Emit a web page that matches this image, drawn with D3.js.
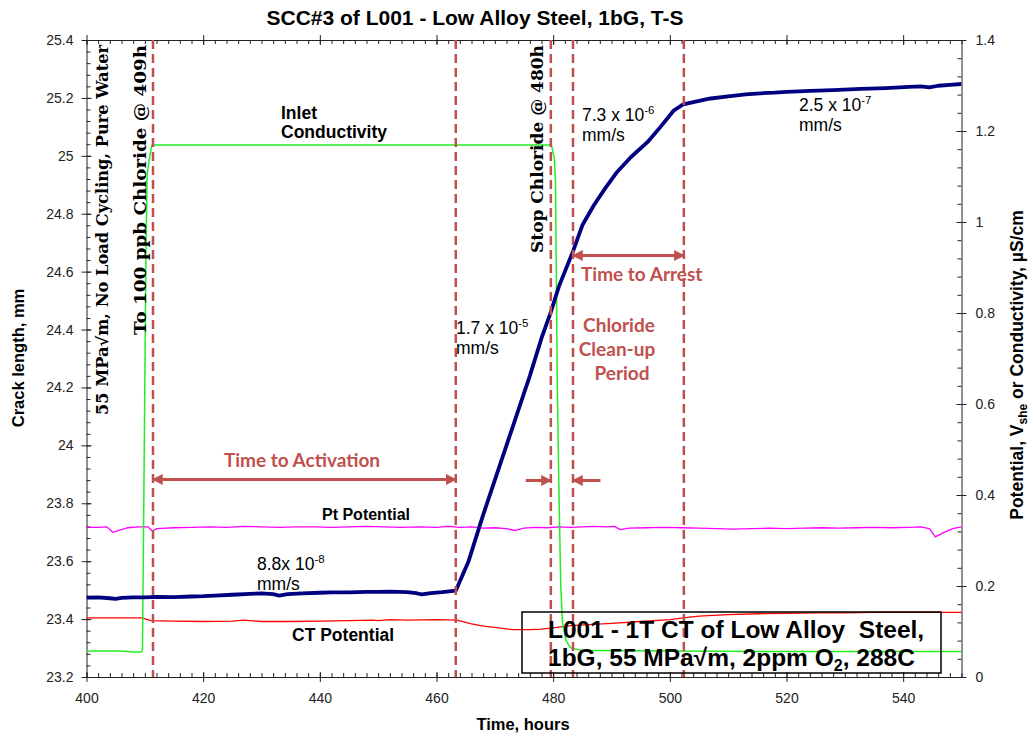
<!DOCTYPE html>
<html>
<head>
<meta charset="utf-8">
<script src="https://d3js.org/d3.v7.min.js"></script>
<style>
  body { margin: 0; background: #fff; }
  text { font-family: Arial, "Liberation Sans", sans-serif; }
  .axis text { font-size: 14px; fill: #222; }
  .axis path, .axis line { stroke: #222; }
  .ann { fill: #c0504d; font-family: Lato, "Open Sans", sans-serif; font-weight: bold; font-size: 19px; }
  .serif { font-family: "DejaVu Serif", "Liberation Serif", serif; font-weight: bold; font-size: 16px; }
</style>
</head>
<body>
<svg id="chart" width="1029" height="738"></svg>
<script>
// crack length (mm, left axis)
var crackTime = [400, 402, 404, 405, 406, 408, 410, 412, 415, 418, 420, 422, 425, 428, 430, 432, 433, 434.5, 437, 440, 442, 445, 448, 450, 452, 455, 456.5, 457.5, 459, 461, 463.3,
                 465.5, 468, 470, 472, 474, 476, 478, 479.6, 481, 483.4, 485, 487, 489, 491, 493.3, 496.2, 498.4, 500.6, 502.3,
                 505, 507, 510, 513, 515.5, 518, 520, 524, 528, 532.7, 537, 541, 543, 544.5, 546, 548, 550];
var crackLen = [23.474, 23.475, 23.472, 23.470, 23.473, 23.475, 23.475, 23.477, 23.476, 23.478, 23.479, 23.481, 23.484, 23.487, 23.489, 23.486, 23.481, 23.486, 23.489, 23.491, 23.492, 23.492, 23.494, 23.494, 23.495, 23.493, 23.490, 23.485, 23.490, 23.493, 23.498,
                23.60, 23.76, 23.88, 24.00, 24.12, 24.24, 24.37, 24.46, 24.55, 24.67, 24.76, 24.83, 24.89, 24.945, 24.995, 25.048, 25.10, 25.155, 25.178,
                25.190, 25.198, 25.205, 25.212, 25.216, 25.218, 25.221, 25.224, 25.227, 25.231, 25.234, 25.238, 25.240, 25.236, 25.242, 25.245, 25.248];

// inlet conductivity (uS/cm, right axis)
var condTime = [400, 405, 407, 408, 409.4, 409.6, 409.9, 410.2, 410.4, 410.8, 411.2, 430, 450, 470, 479.7, 480.2, 480.4, 480.7, 481.0, 481.3, 481.6, 482.2, 483, 485, 500, 520, 540, 550];
var condVal  = [0.057, 0.057, 0.056, 0.055, 0.055, 0.06, 0.50, 0.95, 1.105, 1.14, 1.169, 1.169, 1.169, 1.169, 1.169, 1.14, 1.09, 0.65, 0.40, 0.20, 0.12, 0.08, 0.064, 0.058, 0.057, 0.056, 0.056, 0.056];

// Pt potential (V she, right axis)
var ptTime = [400, 402, 403.5, 404.5, 405.5, 407, 409, 410.5, 411.3, 412, 415, 418, 421, 424, 427, 430, 433, 436, 439, 442, 445, 448, 451, 454, 457, 460, 462, 464, 466, 468, 470, 472, 473.5, 475, 477, 479, 481, 483, 485, 487, 489, 490.5, 491.5, 493, 496, 499, 502, 505, 508, 511, 514, 517, 520, 523, 526, 529, 532, 535, 538, 541, 543, 544.5, 545.5, 547, 548.5, 550];
var ptVal  = [0.329, 0.329, 0.330, 0.318, 0.322, 0.328, 0.330, 0.330, 0.321, 0.326, 0.328, 0.329, 0.330, 0.329, 0.331, 0.330, 0.329, 0.330, 0.330, 0.329, 0.330, 0.331, 0.330, 0.329, 0.330, 0.329, 0.331, 0.329, 0.330, 0.327, 0.328, 0.326, 0.322, 0.327, 0.329, 0.328, 0.330, 0.329, 0.330, 0.331, 0.330, 0.331, 0.324, 0.327, 0.328, 0.329, 0.328, 0.327, 0.326, 0.325, 0.326, 0.327, 0.326, 0.327, 0.328, 0.327, 0.328, 0.329, 0.328, 0.329, 0.330, 0.326, 0.308, 0.318, 0.326, 0.330];

// CT potential (V she, right axis)
var ctTime = [400, 405, 409.5, 411, 415, 420, 425, 427, 430, 435, 440, 445, 449, 450, 452, 455, 460, 463.5, 466, 468, 470, 473, 476, 478, 480, 483, 486, 490, 495, 500, 503, 505, 510, 515, 520, 525, 530, 535, 540, 545, 550];
var ctVal  = [0.130, 0.130, 0.130, 0.124, 0.123, 0.122, 0.123, 0.125, 0.122, 0.122, 0.123, 0.124, 0.125, 0.124, 0.126, 0.125, 0.126, 0.125, 0.117, 0.112, 0.109, 0.104, 0.104, 0.105, 0.108, 0.113, 0.115, 0.118, 0.122, 0.126, 0.131, 0.134, 0.137, 0.139, 0.140, 0.141, 0.141, 0.142, 0.142, 0.142, 0.142];

// event markers (hours)
var eventTimes = [411.4, 463.3, 479.6, 483.4, 502.4];

// tick labels
var xTicks = [400, 420, 440, 460, 480, 500, 520, 540];
var yLeftTicks = [23.2, 23.4, 23.6, 23.8, 24, 24.2, 24.4, 24.6, 24.8, 25, 25.2, 25.4];
var yRightTicks = [0, 0.2, 0.4, 0.6, 0.8, 1, 1.2, 1.4];

var svg = d3.select("#chart"),
    margin = {top: 40, right: 67.5, bottom: 61, left: 86.5},
    width = +svg.attr("width") - margin.left - margin.right,
    height = +svg.attr("height") - margin.top - margin.bottom;

var x = d3.scaleLinear().domain([400, 550]).range([0, width]),
    yL = d3.scaleLinear().domain([23.2, 25.4]).range([height, 0]),
    yR = d3.scaleLinear().domain([0, 1.4]).range([height, 0]);

var g = svg.append("g")
    .attr("transform", "translate(" + margin.left + "," + margin.top + ")");

svg.append("defs").append("clipPath").attr("id", "clip")
  .append("rect").attr("width", width).attr("height", height);

var minorX = d3.range(400, 550.01, 2),
    minorYL = d3.range(23.2, 25.401, 0.04),
    minorYR = d3.range(0, 1.401, 0.04);

var fmt = function(d) { return +d.toFixed(1); };

function noDomain(s) { s.select(".domain").remove(); }

// bottom axis
g.append("g").attr("class", "axis")
    .attr("transform", "translate(0," + height + ")")
    .call(d3.axisBottom(x).tickValues(xTicks).tickSize(5).tickSizeOuter(0).tickPadding(11));
g.append("g").attr("class", "axis")
    .attr("transform", "translate(0," + height + ")")
    .call(d3.axisBottom(x).tickValues(minorX).tickSize(-4).tickFormat(""))
    .call(noDomain);
g.append("g").attr("class", "axis")
    .attr("transform", "translate(0," + height + ")")
    .call(d3.axisBottom(x).tickValues(xTicks).tickSize(-5).tickFormat(""))
    .call(noDomain);

// top frame
g.append("g").attr("class", "axis")
    .call(d3.axisTop(x).tickValues(xTicks).tickSize(5).tickSizeOuter(0).tickFormat(""));
g.append("g").attr("class", "axis")
    .call(d3.axisTop(x).tickValues(minorX).tickSize(-4).tickFormat(""))
    .call(noDomain);
g.append("g").attr("class", "axis")
    .call(d3.axisTop(x).tickValues(xTicks).tickSize(-5).tickFormat(""))
    .call(noDomain);

// left axis
g.append("g").attr("class", "axis")
    .call(d3.axisLeft(yL).tickValues(yLeftTicks).tickSize(5).tickSizeOuter(0).tickPadding(8).tickFormat(fmt));
g.append("g").attr("class", "axis")
    .call(d3.axisLeft(yL).tickValues(minorYL).tickSize(-4).tickFormat(""))
    .call(noDomain);
g.append("g").attr("class", "axis")
    .call(d3.axisLeft(yL).tickValues(yLeftTicks).tickSize(-5).tickFormat(""))
    .call(noDomain);

// right axis
g.append("g").attr("class", "axis")
    .attr("transform", "translate(" + width + ",0)")
    .call(d3.axisRight(yR).tickValues(yRightTicks).tickSize(5).tickSizeOuter(0).tickPadding(9).tickFormat(fmt));
g.append("g").attr("class", "axis")
    .attr("transform", "translate(" + width + ",0)")
    .call(d3.axisRight(yR).tickValues(minorYR).tickSize(-4).tickFormat(""))
    .call(noDomain);
g.append("g").attr("class", "axis")
    .attr("transform", "translate(" + width + ",0)")
    .call(d3.axisRight(yR).tickValues(yRightTicks).tickSize(-5).tickFormat(""))
    .call(noDomain);

// series
var plot = g.append("g").attr("clip-path", "url(#clip)");

function addLine(times, vals, yScale, color, w) {
  var line = d3.line()
      .x(function(d) { return x(d[0]); })
      .y(function(d) { return yScale(d[1]); });
  plot.append("path")
      .datum(d3.zip(times, vals))
      .attr("fill", "none")
      .attr("stroke", color)
      .attr("stroke-width", w)
      .attr("stroke-linejoin", "round")
      .attr("d", line);
}

addLine(ctTime, ctVal, yR, "#ff0000", 1.3);
addLine(ptTime, ptVal, yR, "#ff00ff", 1.3);
addLine(condTime, condVal, yR, "#22ee22", 1.5);
addLine(crackTime, crackLen, yL, "#000080", 3.8);

// event lines
g.selectAll(".event")
    .data(eventTimes)
  .enter().append("line")
    .attr("class", "event")
    .attr("x1", function(d) { return x(d); })
    .attr("x2", function(d) { return x(d); })
    .attr("y1", 0)
    .attr("y2", height)
    .attr("stroke", "#c0504d")
    .attr("stroke-width", 2.5)
    .attr("stroke-dasharray", "9,5");

// arrows
var defs = svg.select("defs");
defs.append("marker").attr("id", "ah")
    .attr("viewBox", "0 0 10 10").attr("refX", 9).attr("refY", 5)
    .attr("markerWidth", 4.4).attr("markerHeight", 3.6).attr("orient", "auto-start-reverse")
    .attr("markerUnits", "strokeWidth")
  .append("path").attr("d", "M0,0 L10,5 L0,10 z").attr("fill", "#c0504d");

function arrow(t1, t2, ypx, both) {
  var a = g.append("line")
      .attr("x1", x(t1)).attr("x2", x(t2))
      .attr("y1", ypx).attr("y2", ypx)
      .attr("stroke", "#c0504d").attr("stroke-width", 3)
      .attr("marker-end", "url(#ah)");
  if (both) a.attr("marker-start", "url(#ah)");
}
arrow(eventTimes[0], eventTimes[1], 439.5, true);
arrow(eventTimes[3], eventTimes[4], 215.5, true);
arrow(475.3, eventTimes[2], 440.5, false);
arrow(488.1, eventTimes[3], 440.5, false);

// annotation text
svg.append("text").attr("class", "ann").attr("x", 302).attr("y", 467).attr("text-anchor", "middle").text("Time to Activation");
svg.append("text").attr("class", "ann").attr("x", 581).attr("y", 281).text("Time to Arrest");
svg.append("text").attr("class", "ann").attr("x", 619).attr("y", 332).attr("text-anchor", "middle").text("Chloride");
svg.append("text").attr("class", "ann").attr("x", 617).attr("y", 356).attr("text-anchor", "middle").text("Clean-up");
svg.append("text").attr("class", "ann").attr("x", 622).attr("y", 380).attr("text-anchor", "middle").text("Period");

function rate(xp, yp, mant, exp, fs) {
  var t = svg.append("text").attr("x", xp).attr("y", yp).style("font-size", fs + "px");
  t.append("tspan").text(mant);
  t.append("tspan").attr("dy", -7).style("font-size", "11.5px").text(exp);
  svg.append("text").attr("x", xp).attr("y", yp + 20).style("font-size", fs + "px").text("mm/s");
}
rate(257, 570, "8.8x 10", "-8", 17.5);
rate(456, 334, "1.7 x 10", "-5", 17.5);
rate(582, 121, "7.3 x 10", "-6", 17.5);
rate(799, 111, "2.5 x 10", "-7", 17.5);

svg.append("text").attr("x", 281).attr("y", 119).style("font-size", "17.5px").style("font-weight", "bold").text("Inlet");
svg.append("text").attr("x", 281).attr("y", 138).style("font-size", "17.5px").style("font-weight", "bold").text("Conductivity");
svg.append("text").attr("x", 322).attr("y", 520).style("font-size", "16px").style("font-weight", "bold").text("Pt Potential");
svg.append("text").attr("x", 292).attr("y", 641).style("font-size", "17.5px").style("font-weight", "bold").text("CT Potential");

// vertical notes
function vnote(xb, len, s) {
  svg.append("text").attr("class", "serif")
      .attr("transform", "translate(" + xb + ",45) rotate(-90)")
      .attr("text-anchor", "end")
      .attr("textLength", len).attr("lengthAdjust", "spacingAndGlyphs")
      .text(s);
}
vnote(108, 370, "55 MPa\u221Am, No Load Cycling, Pure Water");
vnote(146, 290, "To 100 ppb Chloride @ 409h");
vnote(543, 208, "Stop Chloride @ 480h");

// spec box
svg.append("rect").attr("x", 522).attr("y", 612).attr("width", 419).attr("height", 61)
    .attr("fill", "none").attr("stroke", "#000").attr("stroke-width", 1.5);
svg.append("text").attr("x", 548).attr("y", 638).style("font-size", "24.5px").style("font-weight", "bold")
    .style("white-space", "pre").text("L001 - 1T CT of Low Alloy  Steel,");
var l2 = svg.append("text").attr("x", 548).attr("y", 666).style("font-size", "24.5px").style("font-weight", "bold");
l2.append("tspan").text("1bG, 55 MPa\u221Am, 2ppm O");
l2.append("tspan").attr("dy", 5).style("font-size", "16px").text("2");
l2.append("tspan").attr("dy", -5).text(", 288C");

// titles
svg.append("text").attr("x", 475).attr("y", 25).attr("text-anchor", "middle")
    .style("font-size", "21px").style("font-weight", "bold").text("SCC#3 of L001 - Low Alloy Steel, 1bG, T-S");
svg.append("text").attr("x", 523).attr("y", 730).attr("text-anchor", "middle")
    .style("font-size", "16.5px").style("font-weight", "bold").text("Time, hours");
svg.append("text").attr("transform", "translate(24,358) rotate(-90)").attr("text-anchor", "middle")
    .style("font-size", "16.5px").style("font-weight", "bold").text("Crack length, mm");
var rl = svg.append("text").attr("transform", "translate(1023,365) rotate(-90)").attr("text-anchor", "middle")
    .style("font-size", "17.5px").style("font-weight", "bold");
rl.append("tspan").text("Potential, V");
rl.append("tspan").attr("dy", 4).style("font-size", "12px").text("she");
rl.append("tspan").attr("dy", -4).text(" or Conductivity, \u00B5S/cm");
</script>
</body>
</html>
